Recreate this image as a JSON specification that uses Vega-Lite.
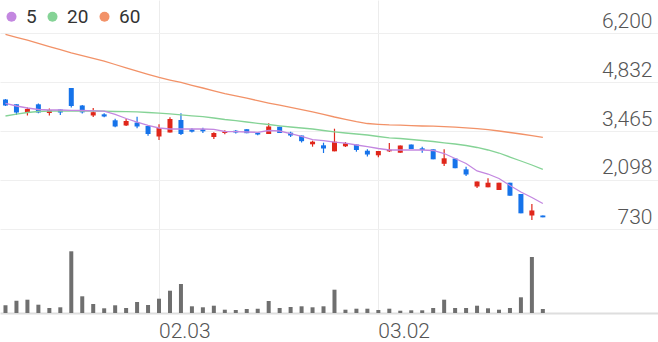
{
  "$schema": "https://vega.github.io/schema/vega-lite/v6.json",
  "width": 658,
  "height": 313,
  "autosize": {"type": "none"},
  "padding": {"left": 0, "top": 0, "right": 0, "bottom": 29},
  "background": "white",
  "config": {"view": {"stroke": null}, "font": "Roboto"},
  "data": {"values": [
    {"date":"01.10","open":4344,"high":4358,"low":4163,"close":4177,"volume":385000,"ma5":4238,"ma20":3884,"ma60":6164},
    {"date":"01.13","open":4210,"high":4210,"low":3912,"close":3981,"volume":615000,"ma5":4163,"ma20":3939,"ma60":6080},
    {"date":"01.14","open":3967,"high":4121,"low":3898,"close":4079,"volume":665000,"ma5":4107,"ma20":3981,"ma60":5999},
    {"date":"01.15","open":4210,"high":4230,"low":3960,"close":3981,"volume":415000,"ma5":4065,"ma20":4009,"ma60":5913},
    {"date":"01.16","open":3967,"high":4093,"low":3898,"close":4051,"volume":250000,"ma5":4051,"ma20":4023,"ma60":5823},
    {"date":"01.17","open":4065,"high":4065,"low":3912,"close":3981,"volume":285000,"ma5":4051,"ma20":4023,"ma60":5734},
    {"date":"01.20","open":4665,"high":4665,"low":4121,"close":4163,"volume":3085000,"ma5":4043,"ma20":4023,"ma60":5645},
    {"date":"01.21","open":4177,"high":4191,"low":3953,"close":3986,"volume":835000,"ma5":4037,"ma20":4023,"ma60":5569},
    {"date":"01.22","open":3898,"high":4107,"low":3856,"close":3990,"volume":450000,"ma5":4029,"ma20":4023,"ma60":5494},
    {"date":"01.23","open":3931,"high":3959,"low":3847,"close":3870,"volume":235000,"ma5":4018,"ma20":4018,"ma60":5413},
    {"date":"01.28","open":3764,"high":3809,"low":3568,"close":3591,"volume":385000,"ma5":3926,"ma20":4009,"ma60":5321},
    {"date":"01.29","open":3619,"high":3809,"low":3605,"close":3744,"volume":250000,"ma5":3814,"ma20":4004,"ma60":5229},
    {"date":"01.30","open":3702,"high":3865,"low":3541,"close":3591,"volume":550000,"ma5":3716,"ma20":4001,"ma60":5137},
    {"date":"01.31","open":3605,"high":3605,"low":3334,"close":3381,"volume":400000,"ma5":3619,"ma20":3981,"ma60":5047},
    {"date":"02.03","open":3312,"high":3652,"low":3214,"close":3549,"volume":715000,"ma5":3549,"ma20":3962,"ma60":4961},
    {"date":"02.04","open":3423,"high":3847,"low":3423,"close":3800,"volume":1115000,"ma5":3521,"ma20":3945,"ma60":4888},
    {"date":"02.05","open":3772,"high":3962,"low":3353,"close":3381,"volume":1450000,"ma5":3521,"ma20":3917,"ma60":4819},
    {"date":"02.06","open":3507,"high":3541,"low":3423,"close":3446,"volume":335000,"ma5":3521,"ma20":3889,"ma60":4740},
    {"date":"02.07","open":3513,"high":3557,"low":3409,"close":3457,"volume":285000,"ma5":3521,"ma20":3864,"ma60":4665},
    {"date":"02.10","open":3298,"high":3430,"low":3242,"close":3409,"volume":365000,"ma5":3512,"ma20":3828,"ma60":4587},
    {"date":"02.11","open":3409,"high":3485,"low":3373,"close":3451,"volume":165000,"ma5":3451,"ma20":3786,"ma60":4509},
    {"date":"02.12","open":3473,"high":3493,"low":3395,"close":3423,"volume":150000,"ma5":3446,"ma20":3753,"ma60":4447},
    {"date":"02.13","open":3515,"high":3515,"low":3404,"close":3404,"volume":200000,"ma5":3437,"ma20":3716,"ma60":4380},
    {"date":"02.14","open":3418,"high":3430,"low":3346,"close":3367,"volume":215000,"ma5":3429,"ma20":3680,"ma60":4313},
    {"date":"02.17","open":3381,"high":3680,"low":3381,"close":3591,"volume":600000,"ma5":3479,"ma20":3646,"ma60":4246},
    {"date":"02.18","open":3585,"high":3585,"low":3409,"close":3409,"volume":250000,"ma5":3465,"ma20":3610,"ma60":4185},
    {"date":"02.19","open":3418,"high":3446,"low":3298,"close":3339,"volume":300000,"ma5":3395,"ma20":3577,"ma60":4124},
    {"date":"02.20","open":3339,"high":3339,"low":3144,"close":3181,"volume":335000,"ma5":3312,"ma20":3549,"ma60":4062},
    {"date":"02.21","open":3094,"high":3195,"low":3027,"close":3167,"volume":285000,"ma5":3222,"ma20":3521,"ma60":3998},
    {"date":"02.24","open":3066,"high":3139,"low":2851,"close":2977,"volume":335000,"ma5":3194,"ma20":3479,"ma60":3931},
    {"date":"02.25","open":2898,"high":3529,"low":2898,"close":3167,"volume":1165000,"ma5":3152,"ma20":3443,"ma60":3856},
    {"date":"02.26","open":3038,"high":3158,"low":3018,"close":3121,"volume":165000,"ma5":3125,"ma20":3409,"ma60":3792},
    {"date":"02.27","open":3088,"high":3088,"low":2887,"close":2935,"volume":215000,"ma5":3074,"ma20":3381,"ma60":3727},
    {"date":"02.28","open":2915,"high":2954,"low":2753,"close":2809,"volume":215000,"ma5":3027,"ma20":3353,"ma60":3674},
    {"date":"03.02","open":2787,"high":2907,"low":2731,"close":2907,"volume":150000,"ma5":2977,"ma20":3312,"ma60":3652},
    {"date":"03.03","open":2898,"high":3130,"low":2879,"close":2943,"volume":215000,"ma5":2935,"ma20":3275,"ma60":3635},
    {"date":"03.04","open":2859,"high":3060,"low":2859,"close":3060,"volume":115000,"ma5":2935,"ma20":3256,"ma60":3627},
    {"date":"03.05","open":3088,"high":3088,"low":2963,"close":2963,"volume":135000,"ma5":2935,"ma20":3228,"ma60":3616},
    {"date":"03.06","open":2982,"high":3027,"low":2859,"close":2935,"volume":135000,"ma5":2935,"ma20":3200,"ma60":3605},
    {"date":"03.09","open":2954,"high":2954,"low":2675,"close":2675,"volume":250000,"ma5":2921,"ma20":3172,"ma60":3599},
    {"date":"03.10","open":2550,"high":2954,"low":2488,"close":2703,"volume":665000,"ma5":2837,"ma20":3136,"ma60":3588},
    {"date":"03.11","open":2698,"high":2698,"low":2427,"close":2427,"volume":250000,"ma5":2698,"ma20":3102,"ma60":3571},
    {"date":"03.12","open":2396,"high":2469,"low":2209,"close":2251,"volume":250000,"ma5":2558,"ma20":3060,"ma60":3552},
    {"date":"03.13","open":1916,"high":2056,"low":1874,"close":2056,"volume":365000,"ma5":2349,"ma20":3005,"ma60":3529},
    {"date":"03.16","open":1894,"high":2146,"low":1894,"close":2022,"volume":235000,"ma5":2265,"ma20":2935,"ma60":3501},
    {"date":"03.17","open":1819,"high":2022,"low":1819,"close":2022,"volume":165000,"ma5":2139,"ma20":2851,"ma60":3465},
    {"date":"03.18","open":2022,"high":2022,"low":1659,"close":1659,"volume":250000,"ma5":1944,"ma20":2739,"ma60":3423},
    {"date":"03.19","open":1707,"high":1707,"low":1168,"close":1168,"volume":785000,"ma5":1763,"ma20":2628,"ma60":3381},
    {"date":"03.20","open":1107,"high":1428,"low":981,"close":1247,"volume":2800000,"ma5":1609,"ma20":2516,"ma60":3334},
    {"date":"03.23","open":1107,"high":1107,"low":1056,"close":1056,"volume":200000,"ma5":1442,"ma20":2396,"ma60":3289}
  ]},
  "encoding": {
    "x": {
      "field": "date",
      "type": "ordinal",
      "scale": {
        "domain": ["01.10","01.13","01.14","01.15","01.16","01.17","01.20","01.21","01.22","01.23","01.28","01.29","01.30","01.31","02.03","02.04","02.05","02.06","02.07","02.10","02.11","02.12","02.13","02.14","02.17","02.18","02.19","02.20","02.21","02.24","02.25","02.26","02.27","02.28","03.02","03.03","03.04","03.05","03.06","03.09","03.10","03.11","03.12","03.13","03.16","03.17","03.18","03.19","03.20","03.23","03.24","03.25","03.26","03.27","03.30","03.31","04.01","04.02","04.03","04.06"],
        "paddingInner": 0,
        "paddingOuter": 0
      },
      "axis": {
        "values": ["02.03", "03.02"],
        "title": null,
        "grid": true,
        "gridColor": "#ececec",
        "gridWidth": 1,
        "bandPosition": 0.5,
        "ticks": false,
        "tickSize": 0,
        "domain": true,
        "domainColor": "#dedede",
        "domainWidth": 2,
        "labelAngle": 0,
        "labelAlign": "left",
        "labelBaseline": "top",
        "labelPadding": 7,
        "labelFontSize": 21,
        "labelFont": "Roboto",
        "labelFontWeight": 300,
        "labelColor": "#555555",
        "labelFlush": false,
        "labelOverlap": false
      }
    }
  },
  "layer": [
    {
      "layer": [
        {
          "mark": {"type": "rule", "strokeWidth": 1.2},
          "encoding": {
            "y": {
              "field": "low",
              "type": "quantitative",
              "scale": {"domain": [-1614, 7121], "zero": false, "nice": false},
              "axis": {
                "orient": "right",
                "values": [730, 2098, 3465, 4832, 6200],
                "format": ",d",
                "title": null,
                "grid": true,
                "gridColor": "#efefef",
                "gridWidth": 1,
                "ticks": false,
                "tickSize": 0,
                "domain": false,
                "labelAlign": "right",
                "labelPadding": -6,
                "labelBaseline": "alphabetic",
                "labelOffset": -6,
                "labelFontSize": 21,
                "labelFont": "Roboto",
                "labelFontWeight": 300,
                "labelColor": "#555555",
                "labelFlush": false,
                "labelOverlap": false
              }
            },
            "y2": {"field": "high"},
            "color": {"condition": {"test": "datum.close >= datum.open", "value": "#e0261a"}, "value": "#1673ea"}
          }
        },
        {
          "mark": {"type": "bar", "size": 5},
          "encoding": {
            "y": {"field": "open", "type": "quantitative", "title": null},
            "y2": {"field": "close"},
            "color": {"condition": {"test": "datum.close >= datum.open", "value": "#e0261a"}, "value": "#1673ea"}
          }
        },
        {
          "mark": {"type": "line", "strokeWidth": 1.3},
          "encoding": {
            "y": {"field": "ma60", "type": "quantitative", "title": null},
            "color": {
              "datum": "60",
              "type": "nominal",
              "scale": {"domain": ["5", "20", "60"], "range": ["#c387e0", "#85d396", "#f29268"]},
              "legend": {
                "title": null,
                "orient": "none",
                "legendX": 2,
                "legendY": 7,
                "direction": "horizontal",
                "symbolType": "circle",
                "symbolSize": 100,
                "symbolStrokeWidth": 0,
                "labelFontSize": 19,
                "labelFont": "Roboto",
                "labelColor": "#333333",
                "labelOffset": 5,
                "columnPadding": 6,
                "padding": 0,
                "encode": {"symbols": {"update": {"fill": {"scale": "color", "field": "value"}, "opacity": {"value": 1}}}}
              }
            }
          }
        },
        {
          "mark": {"type": "line", "strokeWidth": 1.3},
          "encoding": {
            "y": {"field": "ma20", "type": "quantitative", "title": null},
            "color": {"datum": "20", "type": "nominal"}
          }
        },
        {
          "mark": {"type": "line", "strokeWidth": 1.3},
          "encoding": {
            "y": {"field": "ma5", "type": "quantitative", "title": null},
            "color": {"datum": "5", "type": "nominal"}
          }
        }
      ]
    },
    {
      "mark": {"type": "bar", "size": 4, "color": "#6f6f6f"},
      "encoding": {
        "y": {"field": "volume", "type": "quantitative", "scale": {"domain": [0, 15650000]}, "axis": null}
      }
    }
  ],
  "resolve": {"scale": {"y": "independent"}}
}
